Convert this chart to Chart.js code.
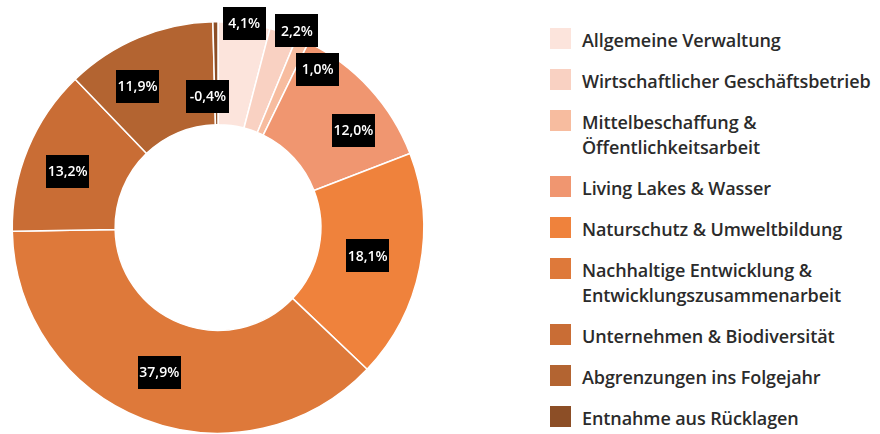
<!DOCTYPE html>
<html>
<head>
<meta charset="utf-8">
<script src="https://cdn.jsdelivr.net/npm/chart.js@4"></script>
<style>
  html, body { margin: 0; padding: 0; background: #fff; }
  #wrap { position: relative; width: 880px; height: 434px; overflow: hidden; }
  #chartBox { position: absolute; left: 0; top: 0; width: 440px; height: 434px; }
  #legend { position: absolute; left: 550px; top: 28px; font-family: 'Open Sans', sans-serif; font-size: 18px; font-weight: 600; letter-spacing: -0.1px; color: #2b2b2b; }
  .item { display: flex; align-items: flex-start; margin-bottom: 16px; }
  .swatch { width: 21px; height: 21px; flex: none; margin-right: 11px; }
  .text { line-height: 25px; }
</style>
</head>
<body>
<div id="wrap">
  <div id="chartBox"><canvas id="donut" width="440" height="434"></canvas></div>
  <div id="legend"></div>
</div>
<script>
// Categories (legend text, \n = line break in legend)
const categories = [
  'Allgemeine Verwaltung',
  'Wirtschaftlicher Geschäftsbetrieb',
  'Mittelbeschaffung &\nÖffentlichkeitsarbeit',
  'Living Lakes & Wasser',
  'Naturschutz & Umweltbildung',
  'Nachhaltige Entwicklung &\nEntwicklungszusammenarbeit',
  'Unternehmen & Biodiversität',
  'Abgrenzungen ins Folgejahr',
  'Entnahme aus Rücklagen'
];

// Share in percent
const shares = [4.1, 2.2, 1.0, 12.0, 18.1, 37.9, 13.2, 11.9, -0.4];

const colors = [
  '#FCE4DC', '#F9D1C2', '#F7BC9F', '#F09670', '#EF823C',
  '#DE793A', '#C96D35', '#B36431', '#8C4E26'
];

// label placement: angle shift (deg) from slice middle, distance as part of outer radius
const labelShift = [0, 3.3, 7.9, 6.8, -0.6, 0.8, -2, -7, -3.7];
const labelDist = [1.0, 1.03, 0.91, 0.81, 0.74, 0.76, 0.78, 0.79, 0.64];

// legend
const legend = document.getElementById('legend');
categories.forEach((c, i) => {
  const row = document.createElement('div');
  row.className = 'item';
  const sw = document.createElement('div');
  sw.className = 'swatch';
  sw.style.background = colors[i];
  const tx = document.createElement('div');
  tx.className = 'text';
  tx.innerHTML = c.split('\n').join('<br>');
  row.appendChild(sw);
  row.appendChild(tx);
  legend.appendChild(row);
});

const fmt = v => v.toFixed(1).replace('.', ',') + '%';

const boxLabels = {
  id: 'boxLabels',
  afterDatasetsDraw(chart) {
    const ctx = chart.ctx;
    const meta = chart.getDatasetMeta(0);
    ctx.save();
    ctx.font = '600 14px "Open Sans", sans-serif';
    ctx.textAlign = 'center';
    ctx.textBaseline = 'middle';
    meta.data.forEach((arc, i) => {
      const a = (arc.startAngle + arc.endAngle) / 2 + labelShift[i] * Math.PI / 180;
      const r = arc.outerRadius * labelDist[i];
      const x = arc.x + Math.cos(a) * r;
      const y = arc.y + Math.sin(a) * r;
      const w = 43, h = 33;
      ctx.fillStyle = '#000';
      ctx.fillRect(Math.round(x - w / 2), Math.round(y - h / 2), w, h);
      ctx.fillStyle = '#fff';
      ctx.fillText(fmt(shares[i]), x, y + 1);
    });
    ctx.restore();
  }
};

new Chart(document.getElementById('donut'), {
  type: 'doughnut',
  data: {
    labels: categories,
    datasets: [{
      data: shares.map(v => Math.abs(v)),
      backgroundColor: colors,
      borderColor: '#fff',
      borderWidth: 1.5,
      hoverOffset: 0,
      offset: 0
    }]
  },
  options: {
    responsive: false,
    animation: false,
    cutout: '50%',
    layout: { padding: { left: 10, right: 14, top: 21, bottom: 0 } },
    plugins: {
      legend: { display: false },
      tooltip: { enabled: false }
    }
  },
  plugins: [boxLabels]
});
</script>
</body>
</html>
